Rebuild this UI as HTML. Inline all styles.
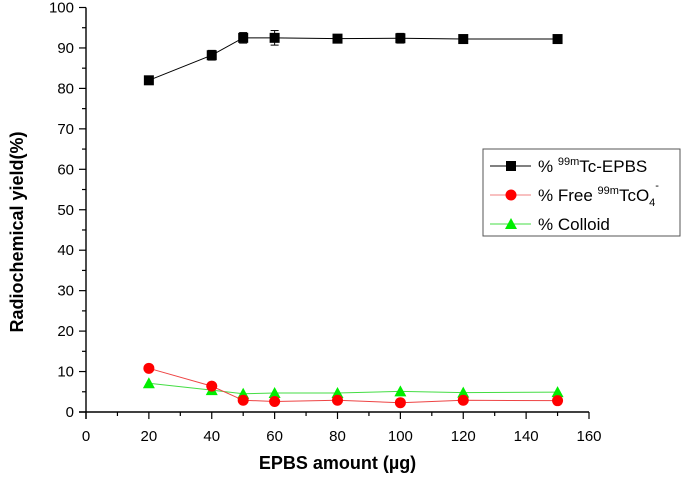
<!DOCTYPE html>
<html><head><meta charset="utf-8"><style>
body{margin:0;background:#fff;width:685px;height:475px;overflow:hidden}
svg text{font-family:"Liberation Sans",Arial,sans-serif}
</style></head><body>
<svg id="chart" width="685" height="475" xmlns="http://www.w3.org/2000/svg"></svg>
<script>
const categories=[20,40,50,60,80,100,120,150];
const tcEpbs=[82,88.2,92.5,92.5,92.3,92.4,92.2,92.2];
const tcEpbsErr=[0.6,1.2,1.3,1.8,0.5,1.2,0.7,0.5];
const freeTcO4=[10.8,6.4,2.9,2.6,2.9,2.3,2.9,2.8];
const colloid=[7.1,5.4,4.5,4.7,4.7,5.1,4.8,4.9];
const xTicks=[0,20,40,60,80,100,120,140,160];
const yTicks=[0,10,20,30,40,50,60,70,80,90,100];

const NS='http://www.w3.org/2000/svg';
const svg=document.getElementById('chart');
const X0=86,X1=589,Y0=412,Y1=7.5;
const xs=v=>X0+(v/160)*(X1-X0);
const ys=v=>Y0-(v/100)*(Y0-Y1);
function el(tag,attrs,parent){const e=document.createElementNS(NS,tag);for(const k in attrs)e.setAttribute(k,attrs[k]);(parent||svg).appendChild(e);return e;}

const axes=el('g',{});


el('line',{x1:X0-7,y1:Y0,x2:X1,y2:Y0,stroke:'#000','stroke-width':1.4},axes);
el('line',{x1:X0,y1:Y0+7,x2:X0,y2:Y1,stroke:'#000','stroke-width':1.4},axes);
for(let v=0;v<=160;v+=10){const big=v%20===0;el('line',{x1:xs(v),y1:Y0,x2:xs(v),y2:Y0+(big?7:4),stroke:'#000','stroke-width':1.2},axes);}
for(let v=0;v<=100;v+=5){const big=v%10===0;el('line',{x1:X0,y1:ys(v),x2:X0-(big?7:4),y2:ys(v),stroke:'#000','stroke-width':1.2},axes);}
xTicks.forEach(v=>{const t=el('text',{x:xs(v),y:Y0+29,'text-anchor':'middle','font-size':15},axes);t.textContent=v;

});
yTicks.forEach(v=>{const t=el('text',{x:X0-12,y:ys(v)+5,'text-anchor':'end','font-size':15},axes);t.textContent=v;

});
const xt=el('text',{x:(X0+X1)/2,y:469,'text-anchor':'middle','font-size':18,'font-weight':'bold'});xt.textContent='EPBS amount (µg)';


const yt=el('text',{x:0,y:0,'text-anchor':'middle','font-size':18,'font-weight':'bold',transform:`translate(23,232) rotate(-90)`});yt.textContent='Radiochemical yield(%)';



function marker(type,x,y,color,g){
 if(type==='sq')return el('rect',{x:x-5,y:y-5,width:10,height:10,fill:color},g);
 if(type==='ci')return el('circle',{cx:x,cy:y,r:5.5,fill:color},g);
 return el('polygon',{points:`${x},${y-6} ${x-6},${y+5} ${x+6},${y+5}`,fill:color},g);
}
function series(vals,color,lineColor,type,name,err){
 const g=el('g',{});
 
 
 el('polyline',{points:categories.map((c,i)=>xs(c)+','+ys(vals[i])).join(' '),fill:'none',stroke:lineColor,'stroke-width':1},g);
 if(err)categories.forEach((c,i)=>{const x=xs(c),a=ys(vals[i]+err[i]),b=ys(vals[i]-err[i]);
  el('line',{x1:x,y1:a,x2:x,y2:b,stroke:'#000'},g);el('line',{x1:x-4,y1:a,x2:x+4,y2:a,stroke:'#000'},g);el('line',{x1:x-4,y1:b,x2:x+4,y2:b,stroke:'#000'},g);});
 categories.forEach((c,i)=>{const m=marker(type,xs(c),ys(vals[i]),color,g);
  
  });
}
series(colloid,'#00ee00','#44dd44','tr','colloid-series');
series(freeTcO4,'#ff0000','#ee4444','ci','free-tco4-series');
series(tcEpbs,'#000','#000','sq','tc-epbs-series',tcEpbsErr);

const lg=el('g',{});


el('rect',{x:483,y:149,width:197,height:87,fill:'#fff',stroke:'#555','stroke-width':1},lg);
const items=[['sq','#000','#000',172],['ci','#f00','#f08080',201],['tr','#00ee00','#44dd44',230]];
items.forEach(([t,c,lc,y])=>{el('line',{x1:490,y1:y-6,x2:531,y2:y-6,stroke:lc},lg);marker(t,511,y-6,c,lg);});
const l1=el('text',{x:538,y:172,'font-size':17},lg);l1.innerHTML='% <tspan font-size="11" dy="-7">99m</tspan><tspan dy="7">Tc-EPBS</tspan>';


const l2=el('text',{x:538,y:201,'font-size':17},lg);l2.innerHTML='% Free <tspan font-size="11" dy="-7">99m</tspan><tspan dy="7">TcO</tspan><tspan font-size="11" dy="5">4</tspan><tspan font-size="11" dy="-17">-</tspan>';


const l3=el('text',{x:538,y:230,'font-size':17},lg);l3.textContent='% Colloid';


</script>
</body></html>
